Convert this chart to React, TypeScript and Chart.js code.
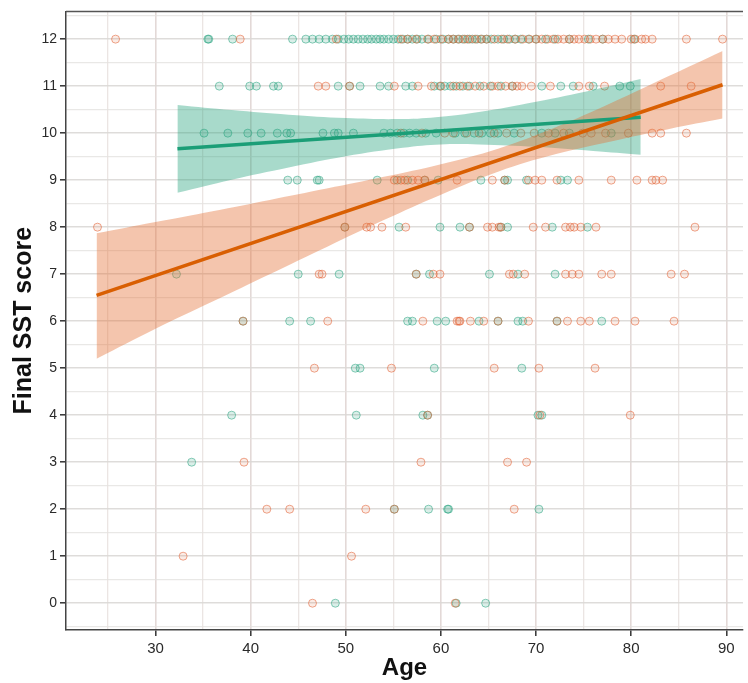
import { useEffect, useRef } from "react";
import { Chart, registerables } from "chart.js";
Chart.register(...registerables);

// ---- tick labels ----
const xMajor = [30, 40, 50, 60, 70, 80, 90];
const xMinor = [25, 35, 45, 55, 65, 75, 85];
const yMajor = [0, 1, 2, 3, 4, 5, 6, 7, 8, 9, 10, 11, 12];
const yMinor = [-0.5, 0.5, 1.5, 2.5, 3.5, 4.5, 5.5, 6.5, 7.5, 8.5, 9.5, 10.5, 11.5, 12.5];

// ---- green group: ages per final SST score (index = score) ----
const g0 = [48.9, 61.6, 64.7];
const g1: number[] = [];
const g2 = [55.1, 58.7, 60.7, 60.8, 70.3];
const g3 = [33.8];
const g4 = [38.0, 51.1, 58.1, 58.6, 70.2, 70.6];
const g5 = [51.0, 51.5, 59.3, 68.5];
const g6 = [39.2, 44.1, 46.3, 56.5, 57.0, 59.6, 60.5, 64.0, 66.0, 68.1, 68.6, 72.2, 76.9];
const g7 = [32.2, 45.0, 49.3, 57.4, 58.8, 65.1, 68.1, 72.0];
const g8 = [49.9, 55.6, 59.9, 62.0, 63.0, 66.3, 67.0, 71.7, 75.4];
const g9 = [43.9, 44.9, 47.0, 47.2, 53.3, 55.4, 56.5, 58.3, 59.7, 64.2, 66.7, 67.0, 69.0, 72.6, 73.3];
const g10 = [35.1, 37.6, 39.7, 41.1, 42.8, 43.8, 44.2, 47.6, 48.8, 49.2, 50.8, 54.0, 54.7, 55.4, 56.1, 56.7, 57.4, 58.4, 59.5, 61.5, 62.5, 63.5, 64.3, 65.2, 66.0, 67.7, 70.6, 72.0, 73.5, 77.9];
const g11 = [36.7, 39.9, 40.6, 42.4, 42.9, 49.2, 50.4, 51.5, 53.6, 54.5, 56.3, 57.0, 59.3, 59.9, 60.4, 61.0, 61.6, 62.3, 63.0, 64.1, 65.2, 66.3, 67.5, 70.6, 72.6, 73.9, 76.0, 78.8, 79.9];
const g12 = [35.5, 35.6, 38.1, 44.4, 45.8, 46.5, 47.2, 47.9, 48.6, 49.2, 49.8, 50.3, 50.8, 51.3, 51.8, 52.3, 52.7, 53.2, 53.6, 54.0, 54.5, 55.0, 55.5, 56.0, 56.5, 57.0, 57.5, 58.0, 58.7, 59.5, 60.2, 60.8, 61.3, 61.8, 62.3, 62.8, 63.3, 63.8, 64.3, 64.8, 65.3, 66.0, 66.6, 67.2, 67.8, 68.4, 69.2, 70.0, 71.0, 72.0, 73.5, 75.5, 77.0, 80.3];
const greenByScore = [g0, g1, g2, g3, g4, g5, g6, g7, g8, g9, g10, g11, g12];

// ---- orange group ----
const o0 = [46.5, 61.5];
const o1 = [32.9, 50.6];
const o2 = [41.7, 44.1, 52.1, 55.1, 67.7];
const o3 = [39.3, 57.9, 67.0, 69.0];
const o4 = [58.6, 70.4, 79.9];
const o5 = [46.7, 54.8, 65.6, 70.3, 76.2];
const o6 = [39.2, 48.1, 58.1, 61.7, 61.9, 62.0, 63.1, 64.5, 66.0, 69.2, 72.2, 73.3, 74.7, 75.6, 78.3, 80.4, 84.5];
const o7 = [47.2, 47.5, 57.4, 59.2, 59.9, 67.2, 67.6, 68.8, 73.1, 73.8, 74.5, 76.9, 77.9, 84.2, 85.6];
const o8 = [23.9, 49.9, 52.2, 52.6, 53.8, 56.3, 63.0, 64.9, 65.4, 66.1, 66.3, 69.7, 71.0, 73.1, 73.6, 74.0, 74.7, 76.3, 86.7];
const o9 = [55.1, 55.8, 56.2, 57.0, 57.6, 58.3, 61.7, 65.4, 66.7, 69.2, 69.9, 70.6, 72.2, 74.5, 77.9, 80.6, 82.2, 82.6, 83.3];
const o10 = [55.8, 58.0, 60.4, 61.3, 62.7, 64.0, 65.6, 66.9, 68.4, 69.8, 71.3, 72.9, 74.9, 75.8, 77.3, 79.7, 82.2, 83.1, 85.8];
const o11 = [47.1, 47.9, 50.4, 55.1, 57.6, 59.0, 60.0, 61.3, 62.0, 62.8, 63.6, 64.5, 65.4, 66.0, 66.8, 67.5, 68.0, 68.5, 69.5, 71.5, 74.5, 75.6, 77.2, 83.1, 86.3];
const o12 = [25.8, 38.9, 49.0, 55.8, 56.5, 57.4, 58.6, 59.3, 60.0, 60.8, 61.3, 61.9, 62.5, 63.0, 63.6, 64.2, 64.8, 65.6, 66.4, 67.0, 67.8, 68.6, 69.3, 70.0, 70.6, 71.2, 71.8, 72.3, 72.9, 73.5, 74.0, 74.5, 75.1, 75.7, 76.3, 77.0, 77.6, 78.3, 79.0, 80.0, 80.4, 81.1, 81.5, 82.2, 85.8, 89.6];
const orangeByScore = [o0, o1, o2, o3, o4, o5, o6, o7, o8, o9, o10, o11, o12];

// ---- regression lines ----
const greenLineX = [32.3, 81];
const greenLineY = [9.67, 10.34];
const orangeLineX = [23.8, 89.6];
const orangeLineY = [6.55, 11.03];

// ---- confidence bands ----
const greenBandX = [32.3, 38, 44, 50, 56, 60, 64, 70, 76, 81];
const greenUpper = [10.6, 10.49, 10.39, 10.32, 10.3, 10.35, 10.45, 10.67, 10.92, 11.15];
const greenLower = [8.73, 9.01, 9.27, 9.51, 9.69, 9.76, 9.76, 9.71, 9.62, 9.54];
const orangeBandX = [23.8, 30, 36, 42, 48, 54, 60, 66, 72, 78, 84, 89.6];
const orangeUpper = [7.87, 8.11, 8.34, 8.58, 8.82, 9.07, 9.34, 9.67, 10.12, 10.65, 11.22, 11.75];
const orangeLower = [5.2, 5.84, 6.42, 7.0, 7.58, 8.15, 8.69, 9.18, 9.55, 9.83, 10.09, 10.31];

const GREEN = "#1b9e77";
const ORANGE = "#d95f02";

const toPts = (xs: number[], ys: number[]) => xs.map((x, i) => ({ x, y: ys[i] }));
const scatterPts = (rows: number[][]) =>
  rows.flatMap((ages, score) => ages.map((a) => ({ x: a, y: score })));

const topBorder = {
  id: "topBorder",
  afterDraw(chart: any) {
    const { ctx, chartArea } = chart;
    ctx.save();
    ctx.strokeStyle = "#555";
    ctx.lineWidth = 1.5;
    ctx.beginPath();
    ctx.moveTo(chartArea.left, chartArea.top);
    ctx.lineTo(chartArea.right, chartArea.top);
    ctx.stroke();
    ctx.restore();
  },
};

export default function App() {
  const ref = useRef<HTMLCanvasElement>(null);
  useEffect(() => {
    document.body.style.margin = "0";
    Chart.defaults.font.family = "'Liberation Sans', Arial, sans-serif";
    const lineBase = { type: "line" as const, showLine: true, pointRadius: 0, fill: false };
    const chart = new Chart(ref.current!, {
      type: "scatter",
      data: {
        datasets: [
          { ...lineBase, data: toPts(orangeLineX, orangeLineY), borderColor: ORANGE, borderWidth: 3.5, order: 0 },
          { ...lineBase, data: toPts(greenLineX, greenLineY), borderColor: GREEN, borderWidth: 3.5, order: 0 },
          { ...lineBase, data: toPts(orangeBandX, orangeUpper), borderWidth: 0, borderColor: "rgba(0,0,0,0)", backgroundColor: "rgba(228,110,50,0.40)", fill: "+1", tension: 0.4, order: 1 },
          { ...lineBase, data: toPts(orangeBandX, orangeLower), borderWidth: 0, borderColor: "rgba(0,0,0,0)", tension: 0.4, order: 1 },
          { ...lineBase, data: toPts(greenBandX, greenUpper), borderWidth: 0, borderColor: "rgba(0,0,0,0)", backgroundColor: "rgba(27,158,119,0.38)", fill: "+1", tension: 0.4, order: 2 },
          { ...lineBase, data: toPts(greenBandX, greenLower), borderWidth: 0, borderColor: "rgba(0,0,0,0)", tension: 0.4, order: 2 },
          { data: scatterPts(orangeByScore), backgroundColor: "rgba(225,95,50,0.12)", borderColor: "rgba(225,95,50,0.55)", borderWidth: 1, pointRadius: 4, order: 3 },
          { data: scatterPts(greenByScore), backgroundColor: "rgba(27,158,119,0.16)", borderColor: "rgba(27,158,119,0.5)", borderWidth: 1, pointRadius: 4, order: 3 },
        ] as any,
      },
      options: {
        animation: false,
        responsive: true,
        maintainAspectRatio: false,
        events: [],
        layout: { padding: { top: 7, right: 2, left: 0, bottom: 0 } },
        plugins: { legend: { display: false }, tooltip: { enabled: false } },
        scales: {
          x: {
            type: "linear",
            min: 20.59,
            max: 91.75,
            afterBuildTicks: (s: any) => {
              s.ticks = [...xMinor, ...xMajor].sort((a, b) => a - b).map((v) => ({ value: v }));
            },
            afterFit: (s: any) => {
              s.height = 53;
            },
            ticks: {
              autoSkip: false,
              maxRotation: 0,
              padding: 4,
              color: "#2a2a2a",
              font: { size: 15 },
              callback: (v: any) => (xMajor.includes(Number(v)) ? String(v) : ""),
            },
            grid: {
              color: (c: any) => (xMajor.includes(c.tick?.value) ? "rgba(222,210,208,0.85)" : "rgba(230,222,220,0.8)"),
              lineWidth: (c: any) => (xMajor.includes(c.tick?.value) ? 1.6 : 1.3),
              tickLength: 6,
              tickColor: (c: any) => (xMajor.includes(c.tick?.value) ? "#333" : "rgba(0,0,0,0)"),
              tickWidth: 1.5,
            },
            border: { display: true, color: "#444", width: 1.5 },
            title: { display: true, text: "Age", color: "#111", font: { size: 24, weight: "bold" }, padding: 0 },
          },
          y: {
            type: "linear",
            min: -0.57,
            max: 12.59,
            afterBuildTicks: (s: any) => {
              s.ticks = [...yMinor, ...yMajor].sort((a, b) => a - b).map((v) => ({ value: v }));
            },
            afterFit: (s: any) => {
              s.width = 66;
            },
            ticks: {
              autoSkip: false,
              padding: 3,
              color: "#2a2a2a",
              font: { size: 14 },
              callback: (v: any) => (yMajor.includes(Number(v)) ? String(v) : ""),
            },
            grid: {
              color: (c: any) => (yMajor.includes(c.tick?.value) ? "rgba(218,216,214,0.9)" : "rgba(228,226,224,0.8)"),
              lineWidth: (c: any) => (yMajor.includes(c.tick?.value) ? 1.6 : 1.3),
              tickLength: 6,
              tickColor: (c: any) => (yMajor.includes(c.tick?.value) ? "#333" : "rgba(0,0,0,0)"),
              tickWidth: 1.5,
            },
            border: { display: true, color: "#444", width: 1.5 },
            title: { display: true, text: "Final SST score", color: "#111", font: { size: 25, weight: "bold" }, padding: { top: 9, bottom: 0 } },
          },
        },
      } as any,
      plugins: [topBorder],
    });
    return () => chart.destroy();
  }, []);
  return (
    <div style={{ width: 748, height: 683, position: "relative", background: "#fff" }}>
      <canvas ref={ref} />
    </div>
  );
}
